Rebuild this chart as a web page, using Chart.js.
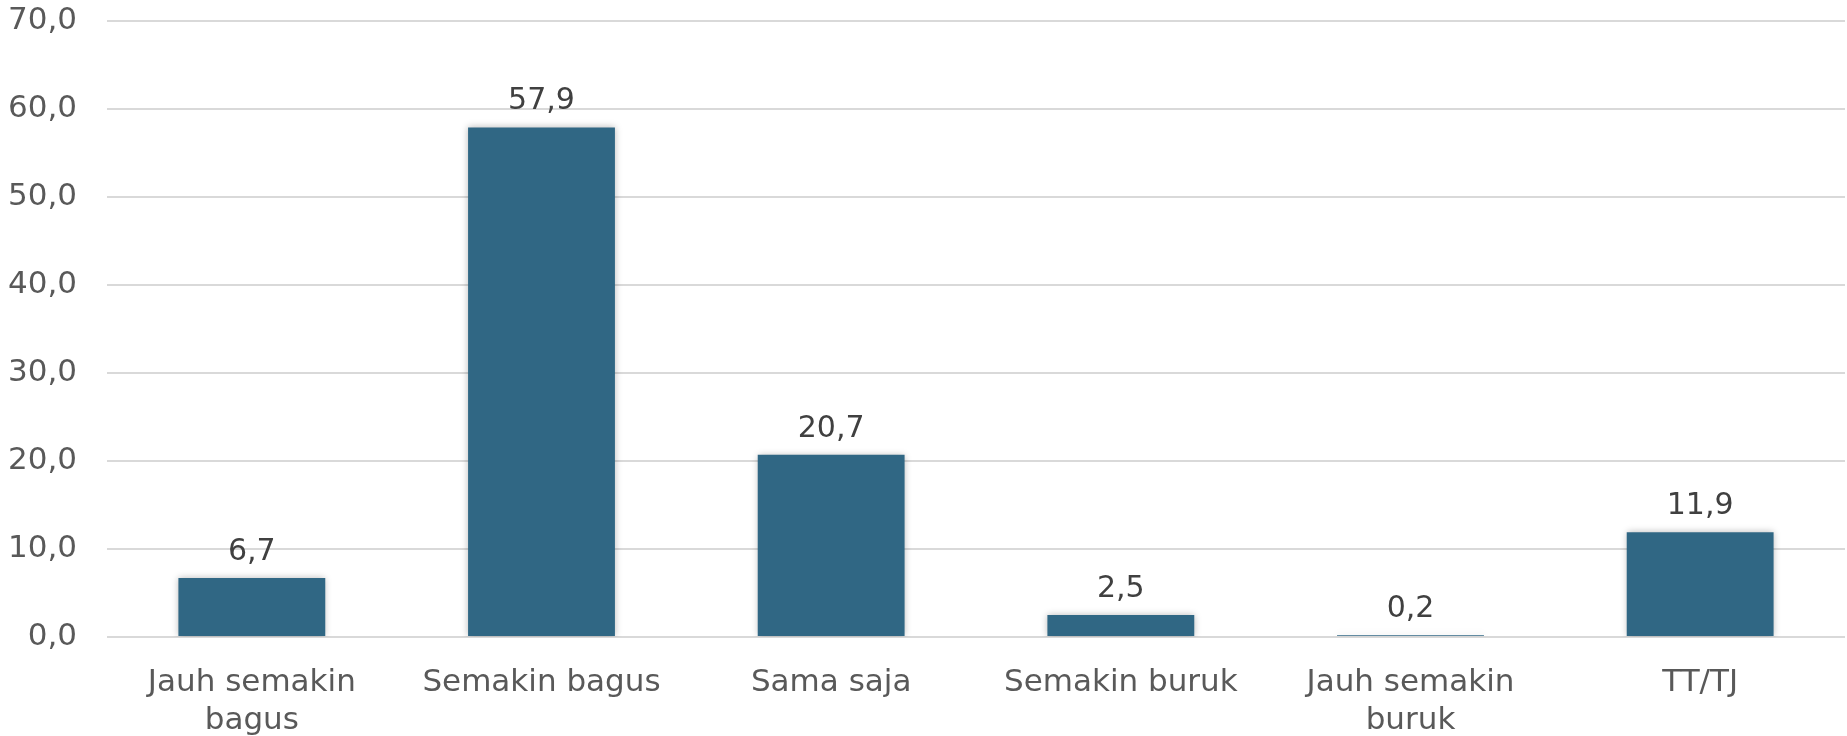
<!DOCTYPE html>
<html>
<head>
<meta charset="utf-8">
<script src="https://cdn.jsdelivr.net/npm/chart.js@4.4.1/dist/chart.umd.min.js"></script>
<style>
  html, body { margin: 0; padding: 0; background: #ffffff; }
  #wrap { width: 1847px; height: 736px; }
</style>
</head>
<body>
<div id="wrap"><canvas id="barChart" width="1847" height="736"></canvas></div>
<script>
// data
const categories = [
    ['Jauh semakin', 'bagus'],
    'Semakin bagus',
    'Sama saja',
    'Semakin buruk',
    ['Jauh semakin', 'buruk'],
    'TT/TJ'
];
const percentValues = [6.7, 57.9, 20.7, 2.5, 0.2, 11.9];
const yTicks = [0, 10, 20, 30, 40, 50, 60, 70];

const fontFamily = "'DejaVu Sans', sans-serif";

function fmtComma(v) {
    return v.toFixed(1).replace('.', ',');
}

// soft grey glow around the bars
const barShadow = {
    id: 'barShadow',
    beforeDatasetDraw(chart) {
        const ctx = chart.ctx;
        ctx.save();
        ctx.shadowColor = 'rgba(0, 0, 0, 0.28)';
        ctx.shadowBlur = 7;
        ctx.shadowOffsetX = 0;
        ctx.shadowOffsetY = 0;
    },
    afterDatasetDraw(chart) {
        chart.ctx.restore();
    }
};

// value labels above each bar
const valueLabels = {
    id: 'valueLabels',
    afterDatasetsDraw(chart) {
        const ctx = chart.ctx;
        const meta = chart.getDatasetMeta(0);
        ctx.save();
        ctx.font = 'normal 30px ' + fontFamily;
        ctx.fillStyle = '#404040';
        ctx.textAlign = 'center';
        ctx.textBaseline = 'alphabetic';
        meta.data.forEach((bar, i) => {
            ctx.fillText(fmtComma(percentValues[i]), bar.x, bar.y - 18);
        });
        ctx.restore();
    }
};

const ctx = document.getElementById('barChart').getContext('2d');
const barChart = new Chart(ctx, {
    type: 'bar',
    data: {
        labels: categories,
        datasets: [{
            data: percentValues,
            backgroundColor: '#306784',
            borderWidth: 0,
            categoryPercentage: 1.0,
            barPercentage: 0.507
        }]
    },
    options: {
        responsive: false,
        animation: false,
        devicePixelRatio: 1,
        layout: { padding: { top: 21, right: 2, bottom: 0, left: 0 } },
        plugins: {
            legend: { display: false },
            tooltip: { enabled: false }
        },
        scales: {
            x: {
                grid: { display: false, drawTicks: false },
                border: { display: false },
                ticks: {
                    color: '#595959',
                    font: { family: fontFamily, size: 31, weight: 'normal', lineHeight: 1.23 },
                    padding: 27,
                    maxRotation: 0,
                    autoSkip: false
                },
                afterFit(scale) { scale.height = 99; }
            },
            y: {
                min: 0,
                max: 70,
                afterBuildTicks(scale) {
                    scale.ticks = yTicks.map(v => ({ value: v }));
                },
                grid: { color: '#d9d9d9', lineWidth: 2, drawTicks: false },
                border: { display: false },
                ticks: {
                    color: '#595959',
                    font: { family: fontFamily, size: 31, weight: 'normal' },
                    padding: 30,
                    callback: v => fmtComma(v)
                },
                afterFit(scale) {
                    scale.width = 107;
                    // tick padding otherwise pushes the plot top down
                    scale.paddingTop = 0;
                    scale.paddingBottom = 0;
                }
            }
        }
    },
    plugins: [barShadow, valueLabels]
});
</script>
</body>
</html>
